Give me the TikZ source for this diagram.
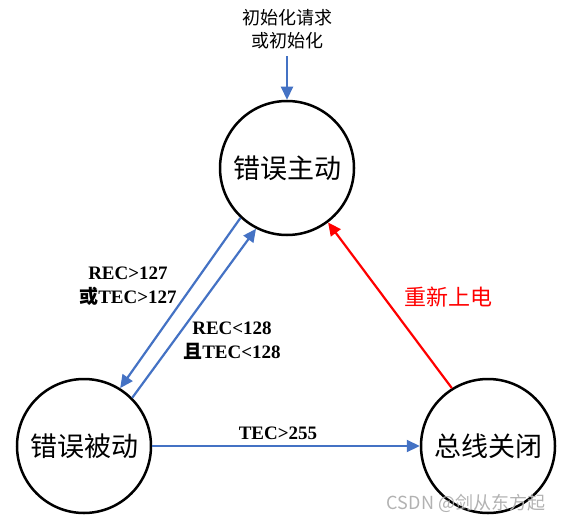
\documentclass[tikz,border=0pt]{standalone}
\usepackage{fontspec}
\setmainfont{Liberation Serif}
\newfontfamily\cjk{Noto Sans CJK SC}
\usetikzlibrary{arrows.meta,positioning}
\definecolor{arrblue}{RGB}{68,114,196}
\definecolor{arrred}{RGB}{255,0,0}
\tikzset{
  state/.style={circle,draw=black,line width=2.5pt,minimum size=134pt,inner sep=0pt,font=\cjk\fontsize{27}{30}\selectfont},
  arr/.style={line width=2.2pt,-{Triangle[length=13pt,width=12pt]}},
  cond/.style={align=center,font=\bfseries\fontsize{19}{24}\selectfont}
}
\begin{document}
\begin{tikzpicture}[x=1pt,y=1pt]
  \useasboundingbox (0,0) rectangle (564,523);

  \node[state] (act) at (287,355) {错误主动};   %error active
  \node[state] (pas) at (84,77) {错误被动};     %error passive
  \node[state] (off) at (488,77) {总线关闭};    %bus off

  \node[align=center,font=\cjk\fontsize{18}{23}\selectfont] (init) at (287,494) {初始化请求\\或初始化};
  \draw[arr,arrblue] ([yshift=-4pt]init.south) -- (act.north);

  \draw[arr,arrblue] (act.227) -- (pas.58);    %to passive
  \draw[arr,arrblue] (pas.45) -- (act.243);    %back to active
  \draw[arr,arrblue] (pas.east) -- (off.west); %to bus off
  \draw[arr,arrred] (off.122) -- (act.307);    %power on again

  \node[cond] (c1) at (128,237) {REC>127\\{\cjk 或}TEC>127};
  \node[cond] (c2) at (232,182) {REC<128\\{\cjk 且}TEC<128};
  \node[cond] (c3) at (278,90) {TEC>255};
  \node[text=arrred,font=\cjk\fontsize{22}{26}\selectfont] (c4) at (448,226) {重新上电};

  \node[text=black!30,font=\cjk\fontsize{18}{20}\selectfont] (wm) at (466,20) {CSDN @剑从东方起};
\end{tikzpicture}
\end{document}
